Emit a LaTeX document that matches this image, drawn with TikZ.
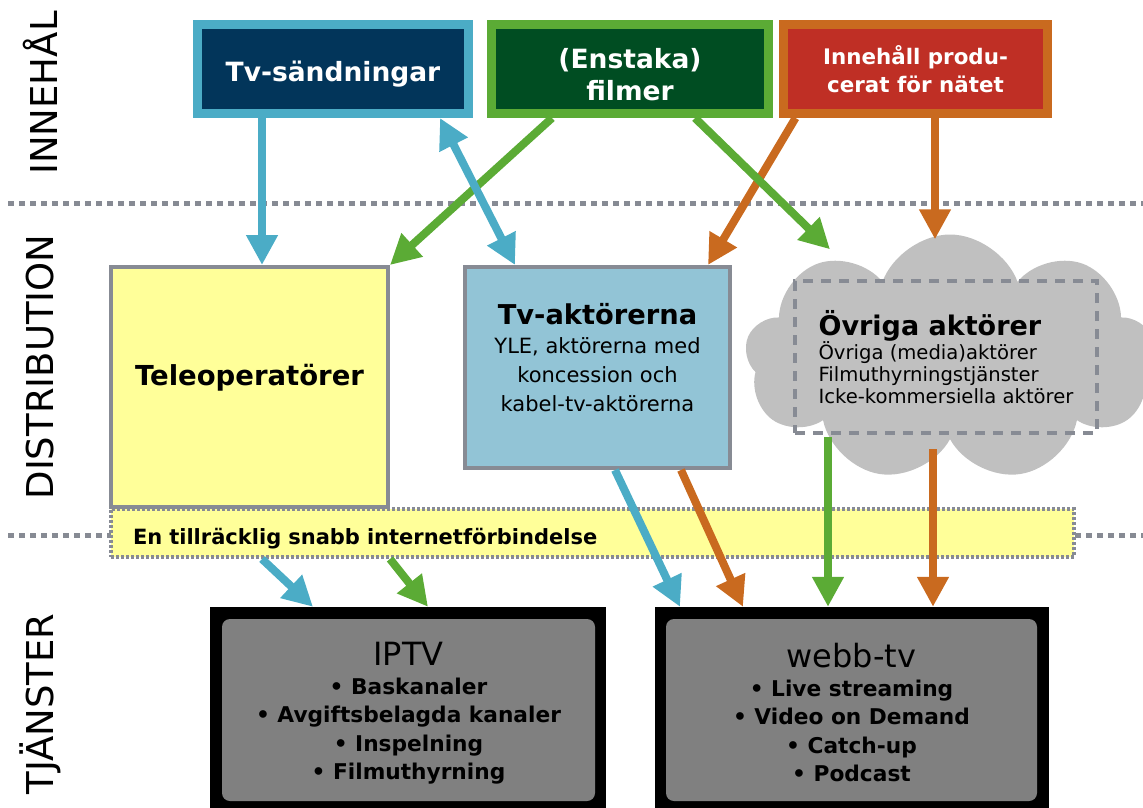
\documentclass[tikz,border=0pt]{standalone}
\usepackage{fontspec}
\setmainfont{DejaVu Sans}
\usetikzlibrary{arrows.meta,shapes.symbols}

\definecolor{tvcyan}{HTML}{4BACC6}
\definecolor{filmgreen}{HTML}{5BAB35}
\definecolor{netorange}{HTML}{C96A1F}
\definecolor{tvnavy}{HTML}{02355A}
\definecolor{filmdark}{HTML}{004D22}
\definecolor{netred}{HTML}{BF2F25}
\definecolor{teleyellow}{HTML}{FFFF99}
\definecolor{aktblue}{HTML}{92C4D6}
\definecolor{edgegray}{HTML}{878B94}
\definecolor{cloudgray}{HTML}{C0C0C0}
\definecolor{servgray}{HTML}{808080}

\begin{document}
\begin{tikzpicture}[x=1pt,y=-1pt,
    topbox/.style={draw,line width=9pt,text=white,align=center,inner sep=0pt,
      minimum height=89pt,font=\bfseries\fontsize{26.5}{32}\selectfont},
    distbox/.style={draw=edgegray,line width=4pt,align=center,inner sep=0pt},
    servbox/.style={fill=black,minimum width=396pt,minimum height=202pt,inner sep=0pt},
    servtext/.style={fill=servgray,rounded corners=8pt,minimum width=373pt,
      minimum height=182pt,align=center,inner sep=0pt,
      font=\bfseries\fontsize{21.7}{28.5}\selectfont},
    flow/.style={line width=8pt,-{Triangle[length=30pt,width=30pt]}},
    flowboth/.style={line width=8pt,{Triangle[length=30pt,width=30pt]}-{Triangle[length=30pt,width=30pt]}},
    sep/.style={edgegray,line width=5pt,dash pattern=on 6pt off 5pt},
    side/.style={rotate=90,font=\fontsize{37}{37}\selectfont}]

  \useasboundingbox (0,0) rectangle (1143,807);

  % layer borders
  \draw[sep] (8,203) -- (1143,203);
  \draw[sep] (8,535) -- (1143,535);

  \node[side] (lblinn)  at (40,93)  {INNEHÅL};
  \node[side] (lbldist) at (40,367) {DISTRIBUTION};
  \node[side] (lbltj)   at (40,704) {TJÄNSTER};

  % content
  \node[topbox,draw=tvcyan,fill=tvnavy,minimum width=271pt] (tvs) at (333,69)
    {\rule{0pt}{30pt}Tv-sändningar};
  \node[topbox,draw=filmgreen,fill=filmdark,minimum width=277pt] (film) at (630,69)
    {\rule{0pt}{32pt}(Enstaka)\\filmer};
  \node[topbox,draw=netorange,fill=netred,minimum width=264pt,
    font=\bfseries\fontsize{21.4}{28}\selectfont] (net) at (915.5,69) {Innehåll produ-\\cerat för nätet};

  % distribution
  \node[distbox,fill=teleyellow,minimum width=277pt,minimum height=240pt,
    font=\bfseries\fontsize{27.5}{30}\selectfont] (tele) at (249.5,387)
    {Teleoperatörer\rule[-24pt]{0pt}{1pt}};
  \node[distbox,fill=aktblue,minimum width=265pt,minimum height=201pt,
    font=\fontsize{21}{29}\selectfont] (tvakt) at (597.5,367.5)
    {{\bfseries\fontsize{27.3}{29}\selectfont Tv-aktörerna}\\YLE, aktörerna med\\koncession och\\kabel-tv-aktörerna\rule[-20pt]{0pt}{1pt}};
  \node[fill=teleyellow,draw=edgegray,line width=4pt,dash pattern=on 3pt off 2pt,
    text width=919pt,inner xsep=22pt,inner ysep=0pt,minimum height=48pt,align=left,
    font=\bfseries\fontsize{21}{24}\selectfont] (band) at (592.5,533)
    {\rule{0pt}{27pt}En tillräcklig snabb internetförbindelse};

  \node[cloud,cloud puffs=9,cloud puff arc=140,cloud ignores aspect,fill=cloudgray,
    minimum width=410pt,minimum height=247pt,inner sep=0pt] (cloud) at (950,358) {};
  \node[draw=edgegray,line width=4pt,dash pattern=on 10pt off 8pt,minimum width=302pt,
    minimum height=152pt,align=left,inner sep=0pt,font=\fontsize{19.6}{22}\selectfont] (ovr) at (946,357)
    {{\bfseries\fontsize{27}{28}\selectfont Övriga aktörer}\\Övriga (media)aktörer\\Filmuthyrningstjänster\\Icke-kommersiella aktörer};

  % services
  \node[servbox] (iptv) at (408,708) {};
  \node[servtext] (iptvtxt) at (408.5,710)
    {{\mdseries\fontsize{32}{35}\selectfont\rule{0pt}{30pt}IPTV}\\• Baskanaler\\• Avgiftsbelagda kanaler\\• Inspelning\\• Filmuthyrning};
  \node[servbox,minimum width=394pt] (webb) at (852,708) {};
  \node[servtext,minimum width=371pt] (webbtxt) at (851.5,710)
    {{\mdseries\fontsize{32}{35}\selectfont\rule{0pt}{30pt}webb-tv}\\• Live streaming\\• Video on Demand\\• Catch-up\\• Podcast};

  % flows
  \draw[flow,filmgreen] ([xshift=-78pt]film.south) -- (tele.north east);
  \draw[flow,netorange] ([xshift=-120pt]net.south) -- ([xshift=110.5pt]tvakt.north);
  \draw[flow,tvcyan] ([xshift=-71pt]tvs.south) -- ([xshift=12.5pt]tele.north);
  \draw[flowboth,tvcyan] ([xshift=107pt]tvs.south) -- ([xshift=-82.5pt]tvakt.north);
  \draw[flow,filmgreen] ([xshift=65pt]film.south) -- ([xshift=-120pt,yshift=-15pt]cloud.north);
  \draw[flow,netorange] ([xshift=19.5pt]net.south) -- ([xshift=-15pt,yshift=-5pt]cloud.north);

  \draw[flow,tvcyan] ([xshift=17.5pt]tvakt.south) -- ([xshift=-172pt]webb.north);
  \draw[flow,netorange] ([xshift=83.5pt]tvakt.south) -- ([xshift=-109pt]webb.north);
  \draw[flow,filmgreen] ([xshift=-118pt,yshift=-2pt]ovr.south) -- ([xshift=-24pt]webb.north);
  \draw[flow,netorange] ([xshift=-13pt,yshift=-14pt]ovr.south) -- ([xshift=81pt]webb.north);
  \draw[flow,tvcyan] ([xshift=-330.5pt]band.south) -- ([xshift=-95pt]iptv.north);
  \draw[flow,filmgreen] ([xshift=-202.5pt]band.south) -- ([xshift=20pt]iptv.north);

\end{tikzpicture}
\end{document}
